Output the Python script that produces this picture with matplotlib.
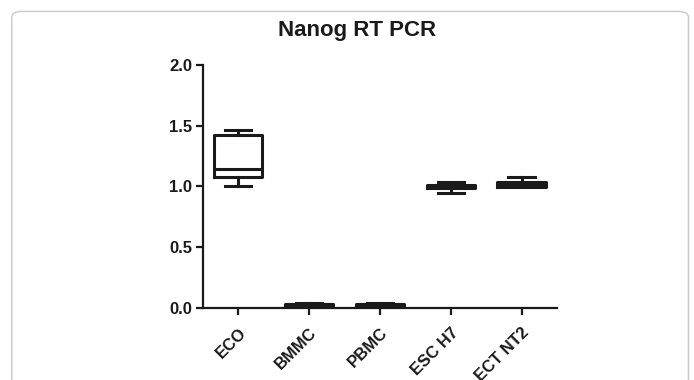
import matplotlib.pyplot as plt
from matplotlib.patches import FancyBboxPatch

plt.rcParams['font.family'] = ['Liberation Sans', 'DejaVu Sans']

# group labels and five-number summaries
groups = ["ECO", "BMMC", "PBMC", "ESC H7", "ECT NT2"]
whislo = [1.00, 0.015, 0.015, 0.95, 1.00]
q1 = [1.08, 0.020, 0.020, 0.985, 0.995]
med = [1.14, 0.030, 0.030, 1.00, 1.02]
q3 = [1.42, 0.035, 0.035, 1.015, 1.035]
whishi = [1.465, 0.040, 0.045, 1.035, 1.08]

stats = []
for i, g in enumerate(groups):
    stats.append({"label": g, "whislo": whislo[i], "q1": q1[i], "med": med[i],
                  "q3": q3[i], "whishi": whishi[i], "fliers": []})

fig = plt.figure(figsize=(6.94, 3.80), dpi=100)

# rounded panel frame
frame = FancyBboxPatch((0.017, -0.05), 0.975, 1.02, boxstyle="round,pad=0,rounding_size=0.015",
                       transform=fig.transFigure, fill=False, edgecolor="#c8c8c8", linewidth=1.0)
fig.patches.append(frame)

ax = fig.add_axes([0.2925, 0.1895, 0.510, 0.6395])
lw = 2.2
ax.bxp(stats, positions=range(len(groups)), widths=0.68, capwidths=0.37, showfliers=False,
       boxprops=dict(color="#1a1a1a", linewidth=lw),
       medianprops=dict(color="#1a1a1a", linewidth=lw),
       whiskerprops=dict(color="#1a1a1a", linewidth=lw),
       capprops=dict(color="#1a1a1a", linewidth=lw))

ax.set_xlim(-0.5, 4.5)
ax.set_ylim(0, 2.0)
ax.set_yticks([0.0, 0.5, 1.0, 1.5, 2.0])
ax.set_yticklabels(["0.0", "0.5", "1.0", "1.5", "2.0"])
ax.set_xticks(range(len(groups)))
ax.set_xticklabels(groups, rotation=45, ha="right", rotation_mode="anchor")

for s in ["top", "right"]:
    ax.spines[s].set_visible(False)
for s in ["left", "bottom"]:
    ax.spines[s].set_linewidth(1.6)
    ax.spines[s].set_color("#1a1a1a")

ax.tick_params(axis="both", direction="out", length=5, width=1.6, color="#1a1a1a")
ax.tick_params(axis="x", pad=7)
ax.tick_params(axis="y", pad=3)
for lab in ax.get_yticklabels() + ax.get_xticklabels():
    lab.set_fontweight("bold")
    lab.set_fontsize(12)
    lab.set_color("#1a1a1a")

fig.text(0.514, 0.92, "Nanog RT PCR", ha="center", va="center",
         fontsize=16, fontweight="bold", color="#1a1a1a")

fig.savefig("out.png", dpi=100)
